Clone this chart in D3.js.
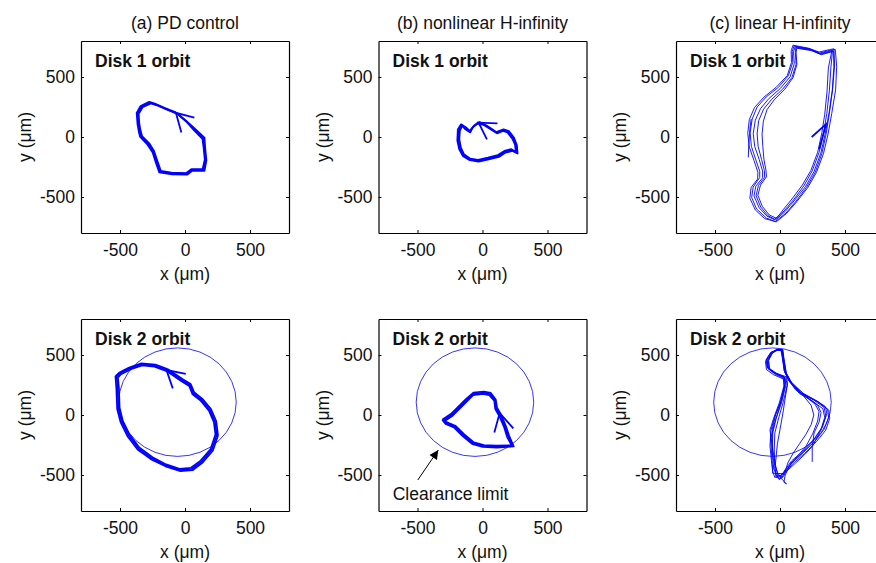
<!DOCTYPE html>
<html>
<head>
<meta charset="utf-8">
<script src="https://cdn.jsdelivr.net/npm/d3@7"></script>
<style>
  body { margin: 0; background: #fff; }
  text { font-family: "Liberation Sans", Arial, sans-serif; }
</style>
</head>
<body>
<svg id="chart" width="876" height="563"></svg>
<script>
// ---------------- data ----------------
const columnTitles = ["(a) PD control", "(b) nonlinear H-infinity", "(c) linear H-infinity"];
const diskLabels = ["Disk 1 orbit", "Disk 2 orbit"];
const tickValues = [-500, 0, 500];
const axisDomain = [-800, 800];
const xLabel = "x (\u03bcm)";
const yLabel = "y (\u03bcm)";

// Disk 1, PD control (several overlapping revolutions)
const orbitA1 = [
  [[-64,198],[-154,239],[-222,270],[-269,286],[-333,253],[-364,198],[-359,114],[-350,50],[-338,3],[-282,-58],[-244,-122],[-218,-206],[-192,-289],[-102,-303],[13,-308],[51,-275],[141,-275],[159,-192],[149,-94],[141,-11],[77,58],[13,128],[-64,198]],
  [[-70,205],[-160,244],[-228,276],[-275,293],[-342,258],[-372,200],[-366,110],[-356,46],[-345,0],[-290,-62],[-250,-128],[-225,-212],[-198,-296],[-100,-312],[18,-314],[55,-282],[150,-282],[165,-195],[156,-96],[150,-5],[82,64],[10,135],[-70,205]],
  [[-58,192],[-148,232],[-216,264],[-262,280],[-326,248],[-356,194],[-352,118],[-342,54],[-330,8],[-275,-52],[-238,-116],[-212,-200],[-186,-282],[-104,-296],[10,-300],[48,-268],[135,-268],[152,-188],[143,-90],[134,-15],[72,52],[16,122],[-58,192]]
];
// Disk 1, nonlinear H-infinity
const orbitB1 = [
  [[-32,119],[-71,86],[-96,44],[-129,72],[-160,100],[-181,58],[-186,-25],[-173,-94],[-148,-150],[-96,-186],[-32,-197],[45,-178],[122,-158],[173,-122],[225,-108],[263,-131],[258,-67],[237,-11],[198,44],[160,58],[109,36],[58,72],[6,108],[-32,119]],
  [[-28,126],[-68,92],[-98,52],[-126,80],[-165,106],[-190,62],[-194,-30],[-180,-100],[-152,-158],[-98,-194],[-30,-205],[48,-186],[126,-166],[178,-130],[230,-116],[270,-138],[265,-70],[243,-6],[203,50],[162,64],[105,42],[55,80],[2,115],[-28,126]],
  [[-36,112],[-75,80],[-94,38],[-132,64],[-156,92],[-174,52],[-178,-20],[-166,-88],[-142,-144],[-94,-180],[-34,-190],[42,-172],[118,-150],[168,-116],[220,-100],[256,-124],[250,-64],[230,-16],[192,38],[157,50],[112,30],[62,64],[10,100],[-36,112]]
];
// Disk 1, linear H-infinity
const orbitC1 = [
  [[100,765],[220,740],[300,708],[380,728],[415,735],[420,600],[405,400],[380,200],[356,30],[322,-138],[272,-292],[204,-420],[124,-534],[46,-634],[-36,-704],[-118,-680],[-190,-608],[-232,-510],[-222,-420],[-172,-350],[-170,-294],[-200,-196],[-236,-84],[-248,30],[-236,146],[-196,246],[-124,332],[-30,414],[56,512],[88,620],[86,718],[100,765]],
  [[108,758],[226,735],[306,700],[384,722],[425,730],[436,590],[428,394],[398,196],[370,26],[334,-140],[280,-296],[212,-424],[130,-538],[50,-638],[-30,-708],[-104,-676],[-180,-600],[-218,-504],[-206,-416],[-156,-338],[-156,-286],[-186,-190],[-220,-78],[-230,34],[-214,150],[-176,250],[-106,334],[-14,412],[64,510],[98,622],[94,714],[108,758]],
  [[116,752],[232,730],[310,694],[386,716],[404,722],[392,584],[380,390],[360,196],[336,34],[300,-130],[248,-282],[184,-406],[108,-518],[32,-616],[-44,-688],[-100,-660],[-160,-590],[-200,-492],[-186,-410],[-134,-340],[-134,-284],[-160,-188],[-194,-80],[-206,28],[-190,140],[-150,236],[-86,320],[2,404],[78,502],[110,612],[104,710],[116,752]],
  [[122,746],[238,724],[314,690],[390,712],[412,718],[414,580],[402,386],[376,192],[348,28],[314,-134],[262,-288],[196,-414],[116,-522],[40,-620],[-32,-690],[-92,-656],[-148,-584],[-184,-490],[-166,-404],[-118,-336],[-120,-280],[-142,-186],[-168,-80],[-176,26],[-164,136],[-126,232],[-64,314],[20,398],[92,496],[124,606],[118,704],[122,746]],
  [[128,740],[242,720],[318,686],[392,708],[398,714],[372,576],[362,382],[344,188],[322,36],[290,-126],[238,-278],[172,-400],[98,-508],[26,-604],[-26,-678],[-82,-650],[-136,-578],[-170,-486],[-150,-400],[-104,-332],[-108,-276],[-124,-184],[-132,-80],[-138,24],[-128,132],[-100,228],[-44,310],[34,394],[100,494],[130,604],[124,700],[128,740]],
  [[-244,-170],[-240,-60],[-232,60],[-222,150]]
];
// Disk 2, PD control
const orbitA2 = [
  [[-141,375],[-231,411],[-333,422],[-423,389],[-500,347],[-525,319],[-518,222],[-513,56],[-487,-56],[-436,-167],[-359,-278],[-256,-361],[-154,-417],[-38,-458],[51,-450],[128,-389],[205,-292],[244,-167],[231,-56],[192,42],[128,125],[64,181],[38,250],[-25,292],[-90,339],[-141,375]],
  [[-135,383],[-228,420],[-336,430],[-430,396],[-508,352],[-535,322],[-528,220],[-522,50],[-495,-62],[-444,-175],[-365,-287],[-260,-370],[-150,-428],[-35,-468],[58,-460],[136,-396],[214,-298],[254,-170],[240,-50],[200,50],[134,134],[70,190],[44,258],[-20,300],[-86,348],[-135,383]],
  [[-146,368],[-235,402],[-330,413],[-416,382],[-492,340],[-516,312],[-508,224],[-503,60],[-478,-50],[-428,-160],[-352,-270],[-250,-352],[-156,-406],[-42,-448],[46,-440],[120,-380],[196,-286],[234,-162],[222,-60],[184,36],[122,118],[58,172],[32,242],[-30,284],[-96,332],[-146,368]]
];
// Disk 2, nonlinear H-infinity
const orbitB2 = [
  [[-302,-47],[-237,0],[-173,69],[-122,125],[-71,175],[6,186],[58,175],[96,125],[104,56],[135,0],[173,-97],[198,-181],[232,-258],[109,-264],[6,-258],[-71,-236],[-148,-167],[-212,-97],[-275,-69],[-302,-47]],
  [[-310,-40],[-244,8],[-178,78],[-126,134],[-70,186],[10,196],[64,184],[102,130],[112,62],[142,4],[180,-92],[206,-176],[240,-262],[110,-272],[2,-266],[-76,-244],[-155,-174],[-220,-104],[-284,-74],[-310,-40]],
  [[-296,-54],[-230,-6],[-168,62],[-118,116],[-72,166],[2,176],[52,166],[90,120],[98,50],[128,-6],[166,-102],[190,-186],[224,-252],[108,-256],[10,-250],[-66,-228],[-142,-160],[-205,-92],[-268,-62],[-296,-54]]
];
// Disk 2, linear H-infinity
const orbitC2 = [
  [[-26,545],[15,545],[24,470],[42,358],[84,272],[170,176],[290,112],[366,48],[374,-20],[340,-118],[272,-214],[182,-312],[92,-396],[28,-480],[-10,-520],[-48,-452],[-60,-300],[-56,-150],[-30,-30],[14,110],[46,252],[34,316],[-42,350],[-96,392],[-102,460],[-66,522],[-26,545]],
  [[-20,540],[18,540],[26,466],[40,352],[80,268],[160,186],[260,124],[340,62],[352,-8],[322,-104],[262,-200],[176,-300],[88,-384],[30,-470],[-4,-540],[-30,-500],[-40,-430],[-44,-290],[-40,-150],[-10,-24],[26,112],[56,248],[44,310],[-30,342],[-82,384],[-90,452],[-58,516],[-20,540]],
  [[-30,538],[8,538],[18,474],[34,364],[72,282],[140,196],[220,140],[290,80],[316,20],[300,-60],[262,-150],[248,-264],[248,-390]],
  [[-34,535],[10,548],[22,476],[36,366],[74,284],[150,178],[250,116],[330,52],[344,-20],[316,-120],[254,-218],[170,-318],[84,-400],[40,-500],[30,-560],[50,-575],[20,-540],[-20,-480],[-50,-380],[-62,-250],[-60,-120],[-34,0],[10,120],[40,260],[30,320],[-46,356],[-100,396],[-106,462],[-70,524],[-34,535]],
  [[-22,548],[20,542],[28,462],[46,350],[90,262],[190,170],[300,104],[376,40],[382,-30],[352,-126],[282,-220],[190,-320],[100,-404],[50,-470],[20,-520],[-16,-500],[-34,-420],[-52,-310],[-70,-180],[-77,-125],[-50,-30],[-6,100],[30,240],[26,300],[-50,336],[-104,378],[-112,446],[-76,512],[-22,548]],
  [[-28,542],[12,536],[20,478],[32,370],[64,292],[120,210],[200,150],[270,90],[300,30],[290,-50],[250,-160],[200,-260],[130,-350],[70,-430],[30,-490],[-20,-486],[-56,-486],[-60,-400],[-66,-300],[-72,-200],[-40,-60],[0,80],[36,230],[40,300],[-34,338],[-86,380],[-96,450],[-62,514],[-28,542]],
  [[-24,544],[16,540],[30,468],[50,340],[100,250],[180,160],[240,80],[260,0],[240,-80],[200,-160],[150,-240],[100,-320],[60,-400],[40,-470],[10,-530],[-30,-520],[-40,-450],[-30,-350],[-20,-240],[0,-120],[20,0],[40,140],[58,260],[50,318],[-24,345],[-80,388],[-88,456],[-60,520],[-24,544]],
  [[-16,548],[22,546],[30,470],[46,354],[86,276],[176,182],[280,120],[350,70],[360,10],[330,-90],[290,-180],[250,-260],[190,-330],[120,-400],[60,-460],[0,-505],[-40,-520],[-56,-470],[-66,-380],[-77,-260],[-70,-130],[-40,-10],[4,110],[34,246],[30,312],[-40,348],[-92,388],[-100,452],[-64,518],[-16,548]]
];

// direction arrows drawn on the orbits: [barb, tip, barb]
const arrowA1 = [[72,161],[-70,202],[-28,37]];
const arrowB1 = [[115,114],[-30,119],[34,-19]];
const arrowC1 = [[244,0],[354,107],[302,-100]];
const arrowA2 = [[6,343],[-143,375],[-94,222]];
const arrowB2 = [[91,-145],[132,16],[237,-111]];

// clearance limit circle: centre and radius (µm)
const clearanceCenter = [-58, 107];
const clearanceRadius = 452;

// annotation
const annotationText = "Clearance limit";
const annotationTextPos = [-691, -708];
const annotationArrow = [[-498,-542],[-340,-292]];

// ---------------- layout ----------------
const svg = d3.select("#chart");
const colLeft = [81, 378.5, 676];
const rowTop = [41, 319];
const pw = 208, ph = 192;
const fontSize = 17.5;
const blue = "#0000ff";

const defs = svg.append("defs");
defs.append("marker")
  .attr("id", "ahead").attr("viewBox", "0 0 10 10")
  .attr("refX", 10).attr("refY", 5)
  .attr("markerWidth", 16).attr("markerHeight", 9)
  .attr("markerUnits", "userSpaceOnUse")
  .attr("orient", "auto")
  .append("path").attr("d", "M0,0 L10,5 L0,10 z").attr("fill", "#000");

const panels = [
  {r:0, c:0, orbits: orbitA1, arrow: arrowA1, width: 1.7, circle: false},
  {r:0, c:1, orbits: orbitB1, arrow: arrowB1, width: 1.7, circle: false},
  {r:0, c:2, orbits: orbitC1, arrow: arrowC1, width: 0.9, circle: false},
  {r:1, c:0, orbits: orbitA2, arrow: arrowA2, width: 1.7, circle: true},
  {r:1, c:1, orbits: orbitB2, arrow: arrowB2, width: 1.7, circle: true, annotate: true},
  {r:1, c:2, orbits: orbitC2, arrow: null, width: 0.9, circle: true}
];

// column titles
columnTitles.forEach((t, i) => {
  svg.append("text")
    .attr("x", colLeft[i] + pw / 2).attr("y", 28.5)
    .attr("text-anchor", "middle")
    .attr("font-size", fontSize)
    .attr("fill", "#111")
    .text(t);
});

panels.forEach((p, idx) => {
  const x0 = colLeft[p.c], y0 = rowTop[p.r];
  const g = svg.append("g").attr("transform", `translate(${x0},${y0})`);
  const x = d3.scaleLinear().domain(axisDomain).range([0, pw]);
  const y = d3.scaleLinear().domain(axisDomain).range([ph, 0]);

  const clipId = "clip" + idx;
  defs.append("clipPath").attr("id", clipId)
    .append("rect").attr("width", pw).attr("height", ph);

  const plot = g.append("g").attr("clip-path", `url(#${clipId})`);

  if (p.circle) {
    plot.append("ellipse")
      .attr("cx", x(clearanceCenter[0])).attr("cy", y(clearanceCenter[1]))
      .attr("rx", x(clearanceRadius) - x(0)).attr("ry", y(0) - y(clearanceRadius))
      .attr("fill", "none").attr("stroke", blue).attr("stroke-width", 0.8);
  }

  const line = d3.line().x(d => x(d[0])).y(d => y(d[1]));
  p.orbits.forEach(o => {
    plot.append("path").attr("d", line(o))
      .attr("fill", "none").attr("stroke", blue)
      .attr("stroke-width", p.width).attr("stroke-linejoin", "round");
  });
  if (p.arrow) {
    plot.append("path").attr("d", line(p.arrow))
      .attr("fill", "none").attr("stroke", blue)
      .attr("stroke-width", 1.8).attr("stroke-linejoin", "miter");
  }

  // axes: ticks inside on all four sides
  const fmt = d => String(d);
  const axB = d3.axisBottom(x).tickValues(tickValues).tickSizeInner(-3).tickSizeOuter(0).tickPadding(11).tickFormat(fmt);
  const axL = d3.axisLeft(y).tickValues(tickValues).tickSizeInner(-3).tickSizeOuter(0).tickPadding(6).tickFormat(fmt);
  const axT = d3.axisTop(x).tickValues(tickValues).tickSizeInner(-3).tickSizeOuter(0).tickFormat("");
  const axR = d3.axisRight(y).tickValues(tickValues).tickSizeInner(-3).tickSizeOuter(0).tickFormat("");

  const styleAxis = sel => {
    sel.selectAll("path.domain").attr("stroke", "#000").attr("stroke-width", 1.2);
    sel.selectAll("line").attr("stroke", "#000").attr("stroke-width", 1);
    sel.selectAll("text").attr("font-size", fontSize).attr("fill", "#111")
      .attr("font-family", '"Liberation Sans", Arial, sans-serif');
  };
  g.append("g").attr("transform", `translate(0,${ph})`).call(axB).call(styleAxis);
  g.append("g").call(axL).call(styleAxis);
  g.append("g").call(axT).call(styleAxis);
  g.append("g").attr("transform", `translate(${pw},0)`).call(axR).call(styleAxis);

  // panel label
  g.append("text")
    .attr("x", 14).attr("y", 25.5)
    .attr("font-size", fontSize).attr("font-weight", "bold").attr("fill", "#111")
    .text(diskLabels[p.r]);

  // axis labels
  g.append("text")
    .attr("x", pw / 2).attr("y", ph + 47)
    .attr("text-anchor", "middle").attr("font-size", fontSize).attr("fill", "#111")
    .text(xLabel);
  g.append("text")
    .attr("transform", `translate(${31 - 81},${ph / 2}) rotate(-90)`)
    .attr("text-anchor", "middle").attr("font-size", fontSize).attr("fill", "#111")
    .text(yLabel);

  if (p.annotate) {
    g.append("line")
      .attr("x1", x(annotationArrow[0][0])).attr("y1", y(annotationArrow[0][1]))
      .attr("x2", x(annotationArrow[1][0])).attr("y2", y(annotationArrow[1][1]))
      .attr("stroke", "#000").attr("stroke-width", 1)
      .attr("marker-end", "url(#ahead)");
    g.append("text")
      .attr("x", x(annotationTextPos[0])).attr("y", y(annotationTextPos[1]))
      .attr("font-size", fontSize).attr("fill", "#111")
      .text(annotationText);
  }
});
</script>
</body>
</html>
